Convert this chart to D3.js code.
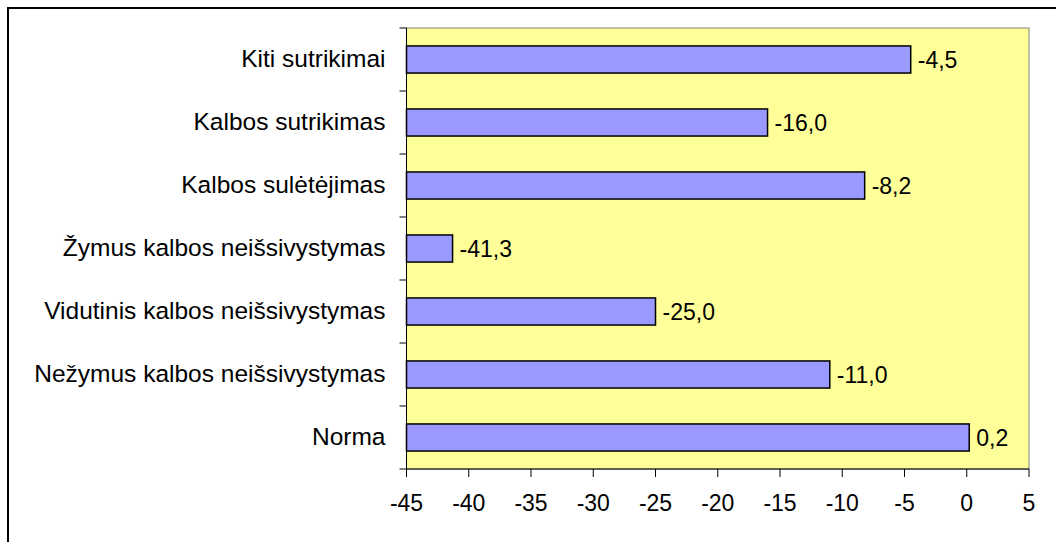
<!DOCTYPE html>
<html><head><meta charset="utf-8">
<script src="https://cdn.jsdelivr.net/npm/d3@7"></script>
<style>body{margin:0;background:#fff}svg{display:block}text{font-family:"Liberation Sans",Arial,sans-serif}</style>
</head><body><svg id="c" width="1056" height="542"></svg>
<script>
const categories = ["Kiti sutrikimai","Kalbos sutrikimas","Kalbos sulėtėjimas","Žymus kalbos neišsivystymas","Vidutinis kalbos neišsivystymas","Nežymus kalbos neišsivystymas","Norma"];
const values = [-4.5,-16.0,-8.2,-41.3,-25.0,-11.0,0.2];
const xTicks = [-45,-40,-35,-30,-25,-20,-15,-10,-5,0,5];

const svg = d3.select("#c");
const L=406.5, R=1029, T=28, B=469;
svg.append("rect").attr("x",8).attr("y",8).attr("width",1100).attr("height",600).attr("fill","none").attr("stroke","#000").attr("stroke-width",2);
svg.append("rect").attr("x",L).attr("y",T).attr("width",R-L).attr("height",B-T).attr("fill","#ffff99").attr("stroke","#808080").attr("stroke-width",1);

const x = d3.scaleLinear().domain([-45,5]).range([L,R]);
const y = d3.scaleBand().domain(categories).range([T,B]).paddingInner(0.57).paddingOuter(0.285);

svg.selectAll("rect.bar").data(values).join("rect").attr("class","bar")
  .attr("x",x(-45)).attr("y",(d,i)=>y(categories[i]))
  .attr("width",d=>x(d)-x(-45)).attr("height",y.bandwidth())
  .attr("fill","#9999ff").attr("stroke","#000").attr("stroke-width",1.5);

const fmt = d=>d.toFixed(1).replace(".",",");
svg.selectAll("text.val").data(values).join("text").attr("class","val")
  .attr("x",d=>x(d)+7).attr("y",(d,i)=>y(categories[i])+y.bandwidth()/2)
  .attr("dy","0.35em").attr("font-size",23).text(fmt);

// y axis
const ya = svg.append("g");
ya.append("line").attr("x1",L).attr("x2",L).attr("y1",T).attr("y2",B).attr("stroke","#000");
const bandStep = (B-T)/categories.length;
d3.range(categories.length+1).forEach(i=>{
  ya.append("line").attr("x1",L-7).attr("x2",L).attr("y1",T+i*bandStep).attr("y2",T+i*bandStep).attr("stroke","#000");
});
ya.selectAll("text").data(categories).join("text")
  .attr("x",385.5).attr("y",d=>y(d)+y.bandwidth()/2).attr("dy","0.3em")
  .attr("text-anchor","end").attr("font-size",24.5).text(d=>d);

// x axis
const xa = svg.append("g");
xa.append("line").attr("x1",L).attr("x2",R).attr("y1",B).attr("y2",B).attr("stroke","#000");
xa.selectAll("line.t").data(xTicks).join("line").attr("class","t")
  .attr("x1",d=>x(d)).attr("x2",d=>x(d)).attr("y1",B).attr("y2",B+8).attr("stroke","#000");
xa.selectAll("text").data(xTicks).join("text")
  .attr("x",d=>x(d)).attr("y",503.3).attr("dy","0.35em").attr("text-anchor","middle")
  .attr("font-size",23).text(d=>d);
</script></body></html>
